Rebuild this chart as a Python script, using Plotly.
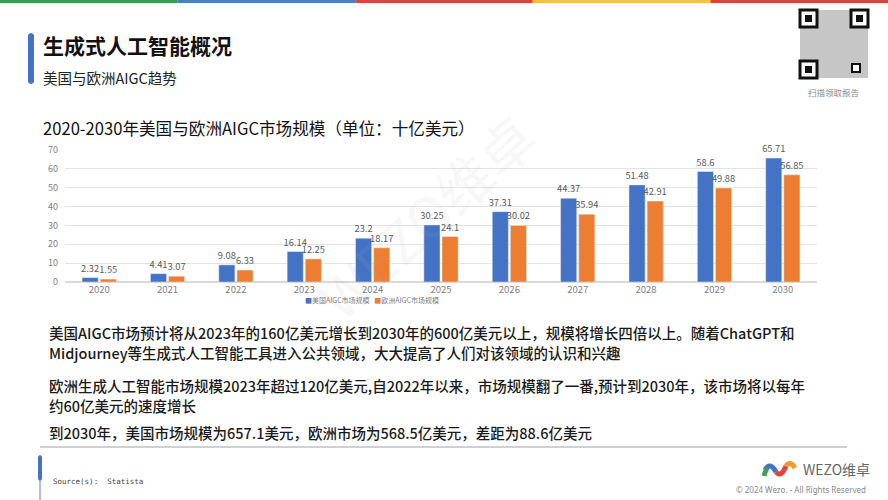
import plotly.graph_objects as go

years = ["2020", "2021", "2022", "2023", "2024", "2025", "2026", "2027", "2028", "2029", "2030"]
us_values = [2.32, 4.41, 9.08, 16.14, 23.2, 30.25, 37.31, 44.37, 51.48, 58.6, 65.71]
eu_values = [1.55, 3.07, 6.33, 12.25, 18.17, 24.1, 30.02, 35.94, 42.91, 49.88, 56.85]
us_name = "美国AIGC市场规模"
eu_name = "欧洲AIGC市场规模"
y_ticks = [0, 10, 20, 30, 40, 50, 60, 70]

title_main = "生成式人工智能概况"
subtitle = "美国与欧洲AIGC趋势"
chart_title = "2020-2030年美国与欧洲AIGC市场规模（单位：十亿美元）"
paragraphs = [
    "美国AIGC市场预计将从2023年的160亿美元增长到2030年的600亿美元以上，规模将增长四倍以上。随着ChatGPT和",
    "Midjourney等生成式人工智能工具进入公共领域，大大提高了人们对该领域的认识和兴趣",
    "欧洲生成人工智能市场规模2023年超过120亿美元,自2022年以来，市场规模翻了一番,预计到2030年，该市场将以每年",
    "约60亿美元的速度增长",
    "到2030年，美国市场规模为657.1美元，欧洲市场为568.5亿美元，差距为88.6亿美元",
]
para_y = [332, 352, 385, 405, 432]

BLUE = "#4472C4"
ORANGE = "#ED7D31"
CJK = "Noto Sans CJK SC"
W, H = 888, 500
L, R, T, B = 65, 817, 150, 282  # plot area in pixels

fig = go.Figure()
fig.add_trace(go.Bar(
    x=years, y=us_values, name=us_name, marker_color=BLUE,
    text=[f"{v:g}" for v in us_values], textposition="outside", constraintext="none",
    textfont=dict(size=9.3, color="#595959", family=CJK), cliponaxis=False,
))
fig.add_trace(go.Bar(
    x=years, y=eu_values, name=eu_name, marker_color=ORANGE,
    text=[f"{v:g}" for v in eu_values], textposition="outside", constraintext="none",
    textfont=dict(size=9.3, color="#595959", family=CJK), cliponaxis=False,
))

fig.update_layout(
    width=W, height=H,
    margin=dict(l=L, r=W - R, t=T, b=H - B, pad=0),
    paper_bgcolor="white", plot_bgcolor="white",
    barmode="group", bargap=0.47, bargroupgap=0.11,
    showlegend=False,
    font=dict(family=CJK, color="#222"),
)
fig.update_yaxes(range=[0, 70], tickvals=y_ticks, showgrid=True, gridcolor="#E3E3E3",
                 gridwidth=1, zeroline=True, zerolinecolor="#D9D9D9", showline=False,
                 tickfont=dict(size=9, color="#7F7F7F"), ticks="", ticklabelstandoff=6)
fig.update_xaxes(showline=False, ticks="", tickfont=dict(size=9.5, color="#7F7F7F"))

shapes = []
ann = []

def px(x):
    return (x - L) / (R - L)

def py(y):
    return (B - y) / (B - T)

# top colour strip
strip_cols = ["#3E9A4B", "#4A7FC0", "#D9473A", "#F2C14A", "#D9473A"]
for i, c in enumerate(strip_cols):
    shapes.append(dict(type="rect", xref="paper", yref="paper",
                       x0=px(i * W / 5), x1=px((i + 1) * W / 5), y0=py(3), y1=py(0),
                       fillcolor=c, line_width=0, layer="above"))

# left accent bar for header
shapes.append(dict(type="path", xref="paper", yref="paper",
                   path=f"M {px(28)},{py(35)} L {px(28)},{py(82)} Q {px(31)},{py(86)} {px(34)},{py(82)} L {px(34)},{py(35)} Q {px(31)},{py(31)} {px(28)},{py(35)} Z",
                   fillcolor=BLUE, line_width=0))

ann.append(dict(text=f"<b>{title_main}</b>", x=px(41), y=py(45), xref="paper", yref="paper",
                xanchor="left", yanchor="middle", showarrow=False,
                font=dict(size=21, color="#111", family=CJK)))
ann.append(dict(text=subtitle, x=px(41), y=py(77), xref="paper", yref="paper",
                xanchor="left", yanchor="middle", showarrow=False,
                font=dict(size=14.5, color="#222", family=CJK)))
ann.append(dict(text=chart_title, x=px(41), y=py(128), xref="paper", yref="paper",
                xanchor="left", yanchor="middle", showarrow=False,
                font=dict(size=16.6, color="#111", family=CJK)))

# QR code placeholder
qx0, qy0, qs = 800, 10, 68
shapes.append(dict(type="rect", xref="paper", yref="paper", x0=px(qx0), x1=px(qx0 + qs),
                   y0=py(qy0 + qs), y1=py(qy0), fillcolor="#8E8E8E", opacity=0.5, line_width=0))
for fx, fy in [(qx0, qy0), (qx0 + qs - 17, qy0), (qx0, qy0 + qs - 17)]:
    shapes.append(dict(type="rect", xref="paper", yref="paper", x0=px(fx), x1=px(fx + 17),
                       y0=py(fy + 17), y1=py(fy), fillcolor="white", line=dict(color="#111", width=3)))
    shapes.append(dict(type="rect", xref="paper", yref="paper", x0=px(fx + 5), x1=px(fx + 12),
                       y0=py(fy + 12), y1=py(fy + 5), fillcolor="#111", line_width=0))
shapes.append(dict(type="rect", xref="paper", yref="paper", x0=px(852), x1=px(860),
                   y0=py(72), y1=py(64), fillcolor="white", line=dict(color="#111", width=2)))
ann.append(dict(text="扫描领取报告", x=px(834), y=py(92), xref="paper", yref="paper",
                xanchor="center", yanchor="middle", showarrow=False,
                font=dict(size=8.5, color="#8A8A8A", family=CJK)))

# watermark
ann.append(dict(text="WEZO维卓", x=px(425), y=py(215), xref="paper", yref="paper",
                showarrow=False, textangle=-42,
                font=dict(size=56, color="rgba(180,180,180,0.10)", family=CJK)))

# legend as text
ann.append(dict(text=f"<span style='color:{BLUE}'>■</span>{us_name}   <span style='color:{ORANGE}'>■</span>{eu_name}",
                x=px(372), y=py(300), xref="paper", yref="paper", xanchor="center", yanchor="middle",
                showarrow=False, font=dict(size=7, color="#7F7F7F", family=CJK)))

for t, yy in zip(paragraphs, para_y):
    ann.append(dict(text=t, x=px(47), y=py(yy), xref="paper", yref="paper",
                    xanchor="left", yanchor="middle", showarrow=False,
                    font=dict(size=14.5, color="#1A1A1A", family=CJK, weight=500)))

# divider
shapes.append(dict(type="line", xref="paper", yref="paper", x0=px(40), x1=px(847), y0=py(447), y1=py(447),
                   line=dict(color="#9AA3AD", width=1)))

# footer accent
shapes.append(dict(type="line", xref="paper", yref="paper", x0=px(40), x1=px(40), y0=py(480), y1=py(500),
                   line=dict(color="#5B7FC4", width=1)))
shapes.append(dict(type="path", xref="paper", yref="paper",
                   path=f"M {px(38)},{py(457)} L {px(38)},{py(479)} Q {px(40)},{py(482)} {px(42)},{py(479)} L {px(42)},{py(457)} Q {px(40)},{py(453)} {px(38)},{py(457)} Z",
                   fillcolor=BLUE, line_width=0))
ann.append(dict(text="Source(s):  Statista", x=px(51), y=py(481), xref="paper", yref="paper",
                xanchor="left", yanchor="middle", showarrow=False,
                font=dict(size=7.5, color="#444", family="DejaVu Sans Mono")))

# logo waves
logo = [
    (BLUE, f"M {px(765)},{py(470)} Q {px(770)},{py(461)} {px(776)},{py(472)}"),
    ("#E0463A", f"M {px(776)},{py(472)} Q {px(781)},{py(478)} {px(786)},{py(466)}"),
    ("#F29A2E", f"M {px(786)},{py(466)} Q {px(790)},{py(460)} {px(795)},{py(468)}"),
    ("#3FA356", f"M {px(764)},{py(476)} Q {px(765)},{py(472)} {px(767)},{py(468)}"),
]
for c, p in logo:
    shapes.append(dict(type="path", xref="paper", yref="paper", path=p,
                       line=dict(color=c, width=5)))
ann.append(dict(text="WEZO维卓", x=px(801), y=py(469), xref="paper", yref="paper",
                xanchor="left", yanchor="middle", showarrow=False,
                font=dict(size=14, color="#666", family=CJK)))
ann.append(dict(text="© 2024 Wezo. - All Rights Reserved", x=px(868), y=py(489), xref="paper", yref="paper",
                xanchor="right", yanchor="middle", showarrow=False,
                font=dict(size=8, color="#8A8A8A", family="Noto Sans")))

fig.update_layout(shapes=shapes, annotations=ann)
fig.write_html("out.html")
